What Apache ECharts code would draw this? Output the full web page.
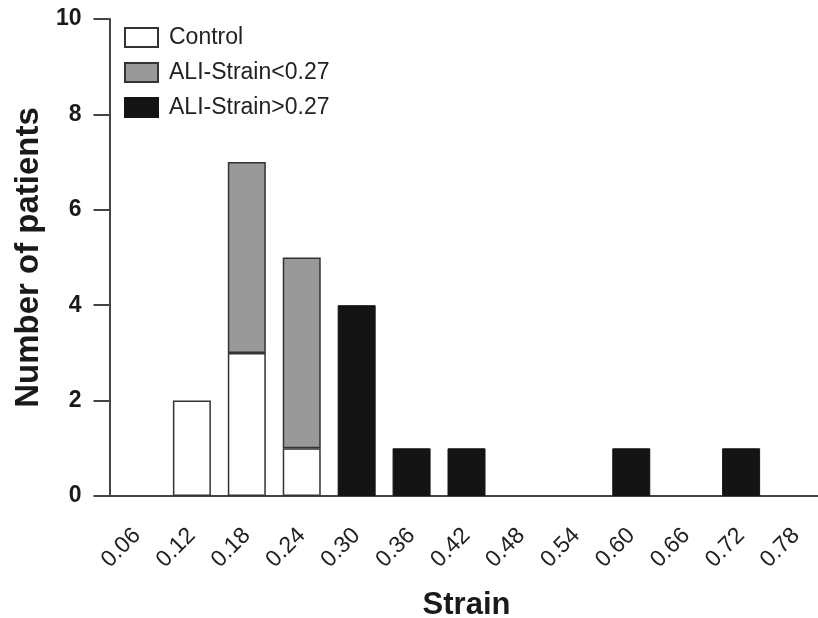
<!DOCTYPE html>
<html>
<head>
<meta charset="utf-8">
<script src="https://cdn.jsdelivr.net/npm/echarts@6/dist/echarts.min.js"></script>
<style>html,body{margin:0;padding:0;background:#fff}#c{width:818px;height:618px}</style>
</head>
<body>
<div id="c"></div>
<script>
const categories = ['0.06','0.12','0.18','0.24','0.30','0.36','0.42','0.48','0.54','0.60','0.66','0.72','0.78'];
const controlVals = [null, 2, 3, 1, null, null, null, null, null, null, null, null, null];
const aliLowVals  = [null, null, 4, 4, null, null, null, null, null, null, null, null, null];
const aliHighVals = [null, null, null, null, 4, 1, 1, null, null, 1, null, 1, null];
const yTicks = [0, 2, 4, 6, 8, 10];

const font = 'Liberation Sans, Arial, Helvetica, sans-serif';
const chart = echarts.init(document.getElementById('c'));
chart.setOption({
  animation: false,
  backgroundColor: '#fff',
  grid: { left: 109.5, top: 19, width: 714, height: 477, outerBoundsMode: 'none', containLabel: false },
  legend: {
    orient: 'vertical', left: 119, top: 21,
    icon: 'rect',
    itemWidth: 33, itemHeight: 19, itemGap: 12,
    textStyle: { fontFamily: font, fontSize: 23, color: '#222', padding: [0, 0, 0, 6] },
    data: ['Control', 'ALI-Strain<0.27', 'ALI-Strain>0.27']
  },
  xAxis: {
    type: 'category', data: categories, boundaryGap: true,
    name: 'Strain', nameLocation: 'middle', nameGap: 94,
    nameTextStyle: { fontFamily: font, fontSize: 31, fontWeight: 'bold', color: '#1a1a1a' },
    axisLine: { lineStyle: { color: '#444', width: 2 } },
    axisTick: { alignWithLabel: true, length: 16, lineStyle: { color: '#444', width: 2 } },
    axisLabel: { rotate: 45, margin: 36, fontFamily: font, fontSize: 23, color: '#222', interval: 0 }
  },
  yAxis: {
    type: 'value', min: 0, max: 10, interval: 2,
    name: 'Number of patients', nameLocation: 'middle', nameGap: 60,
    nameTextStyle: { fontFamily: font, fontSize: 33, fontWeight: 'bold', color: '#1a1a1a' },
    axisLine: { show: true, lineStyle: { color: '#444', width: 2 } },
    axisTick: { show: true, length: 16, lineStyle: { color: '#444', width: 2 } },
    axisLabel: { margin: 28, fontFamily: font, fontSize: 23, fontWeight: 'bold', color: '#1a1a1a',
      formatter: v => yTicks.includes(v) ? String(v) : '' },
    splitLine: { show: false }
  },
  series: [
    { name: 'Control', type: 'bar', stack: 's', data: controlVals, barWidth: 38,
      itemStyle: { color: '#ffffff', borderColor: '#333', borderWidth: 1.5 } },
    { name: 'ALI-Strain<0.27', type: 'bar', stack: 's', data: aliLowVals, barWidth: 38,
      itemStyle: { color: '#999999', borderColor: '#333', borderWidth: 1.5 } },
    { name: 'ALI-Strain>0.27', type: 'bar', stack: 's', data: aliHighVals, barWidth: 38,
      itemStyle: { color: '#141414', borderColor: '#141414', borderWidth: 1 } }
  ]
});
</script>
</body>
</html>
